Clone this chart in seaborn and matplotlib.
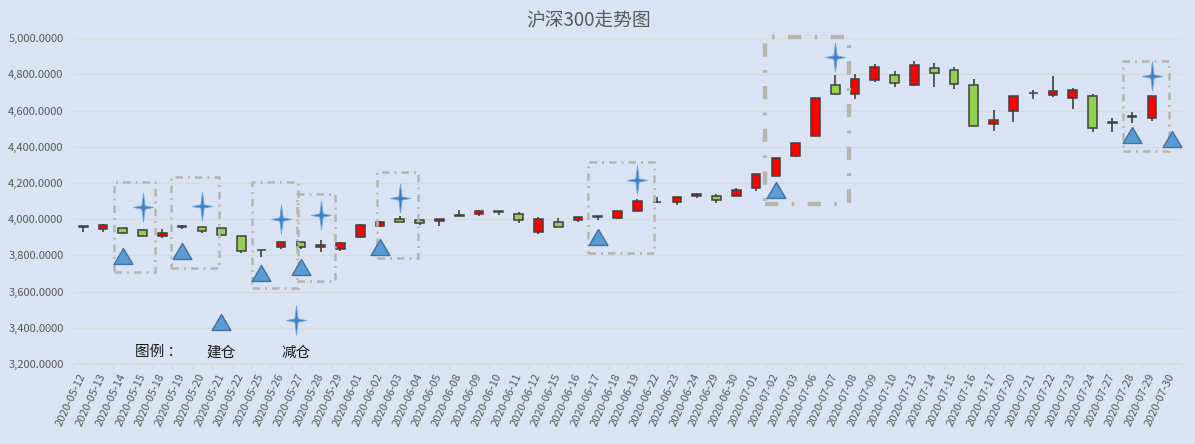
import numpy as np
import pandas as pd
import seaborn as sns
import matplotlib
matplotlib.use("Agg")
import matplotlib.pyplot as plt
from matplotlib.path import Path
from matplotlib.patches import Rectangle
from matplotlib.ticker import FuncFormatter

# ---- data ----
dates = ["2020-05-12", "2020-05-13", "2020-05-14", "2020-05-15", "2020-05-18", "2020-05-19",
         "2020-05-20", "2020-05-21", "2020-05-22", "2020-05-25", "2020-05-26", "2020-05-27",
         "2020-05-28", "2020-05-29", "2020-06-01", "2020-06-02", "2020-06-03", "2020-06-04",
         "2020-06-05", "2020-06-08", "2020-06-09", "2020-06-10", "2020-06-11", "2020-06-12",
         "2020-06-15", "2020-06-16", "2020-06-17", "2020-06-18", "2020-06-19", "2020-06-22",
         "2020-06-23", "2020-06-24", "2020-06-29", "2020-06-30", "2020-07-01", "2020-07-02",
         "2020-07-03", "2020-07-06", "2020-07-07", "2020-07-08", "2020-07-09", "2020-07-10",
         "2020-07-13", "2020-07-14", "2020-07-15", "2020-07-16", "2020-07-17", "2020-07-20",
         "2020-07-21", "2020-07-22", "2020-07-23", "2020-07-24", "2020-07-27", "2020-07-28",
         "2020-07-29", "2020-07-30"]

open_ = [3958, 3946, 3949, 3940, 3910, 3959, 3956, 3951, 3907, 3828, 3844, 3874, 3846, 3833,
         3901, 3965, 4001, 3995, 3990, 4019, 4028, 4042, 4028, 3929, 3984, 3995, 4014, 4006,
         4045, 4095, 4094, 4128, 4128, 4128, 4172, 4238, 4352, 4462, 4740, 4691, 4768, 4796,
         4740, 4834, 4823, 4740, 4525, 4597, 4695, 4685, 4669, 4680, 4533, 4566, 4558, np.nan]
high = [3965, 3975, 3951, 3945, 3945, 3969, 3957, 3952, 3908, 3838, 3875, 3876, 3886, 3875,
        3975, 3991, 4017, 3996, 4002, 4050, 4050, 4045, 4039, 4010, 4008, 4012, 4018, 4045,
        4111, 4125, 4122, 4146, 4140, 4172, 4249, 4338, 4420, 4678, 4796, 4803, 4858, 4821,
        4877, 4862, 4840, 4774, 4602, 4680, 4713, 4790, 4727, 4691, 4558, 4591, 4680, np.nan]
low = [3930, 3930, 3921, 3905, 3896, 3945, 3923, 3905, 3816, 3794, 3838, 3833, 3818, 3827,
       3899, 3956, 3983, 3967, 3965, 4018, 4017, 4023, 3980, 3921, 3955, 3986, 3993, 4001,
       4044, 4089, 4078, 4120, 4087, 4127, 4158, 4237, 4345, 4461, 4687, 4667, 4757, 4733,
       4739, 4729, 4722, 4513, 4486, 4536, 4663, 4674, 4608, 4481, 4481, 4534, 4545, np.nan]
close = [3960, 3967, 3923, 3910, 3922, 3961, 3934, 3912, 3824, 3830, 3874, 3845, 3857, 3868,
         3967, 3986, 3984, 3978, 4001, 4021, 4045, 4044, 3995, 4001, 3956, 4012, 4016, 4045,
         4100, 4097, 4122, 4139, 4109, 4161, 4249, 4337, 4420, 4669, 4694, 4774, 4840, 4752,
         4851, 4807, 4746, 4514, 4547, 4680, 4697, 4711, 4713, 4503, 4535, 4568, 4680, np.nan]

# 建仓 (open position) and 减仓 (reduce position) signals
build_dates = ["2020-05-14", "2020-05-19", "2020-05-25", "2020-05-27", "2020-06-02",
               "2020-06-17", "2020-07-02", "2020-07-28", "2020-07-30"]
build_values = [3798, 3824, 3702, 3735, 3847, 3904, 4160, 4468, 4446]
reduce_dates = ["2020-05-15", "2020-05-20", "2020-05-26", "2020-05-28", "2020-06-03",
                "2020-06-19", "2020-07-07", "2020-07-29"]
reduce_values = [4070, 4074, 4000, 4022, 4117, 4218, 4899, 4792]

df = pd.DataFrame({"date": dates, "open": open_, "high": high, "low": low, "close": close})
df["x"] = np.arange(len(df))

bg = "#dae3f3"
sns.set_theme(style="whitegrid", rc={
    "axes.facecolor": bg, "figure.facecolor": bg,
    "grid.color": "#d9d9d9", "grid.linewidth": 0.9,
})
plt.rcParams["font.family"] = ["Noto Sans CJK SC", "DejaVu Sans"]

fig = plt.figure(figsize=(11.95, 4.44), dpi=100)
ax = fig.add_axes([0.0613, 0.1802, 0.9275, 0.7336])

# candles
up = df["close"] >= df["open"]
body_colors = np.where(up, "#ff0000", "#92d050")
ax.vlines(df["x"], df["low"], df["high"], color="#404040", lw=1.2, zorder=2)
ax.bar(df["x"], df["close"] - df["open"], bottom=df["open"], width=0.44,
       color=body_colors, edgecolor="#404040", linewidth=1.1, zorder=3)

# signal markers
tri = Path([(-1, -0.85), (1, -0.85), (0, 0.85), (-1, -0.85)],
           [Path.MOVETO, Path.LINETO, Path.LINETO, Path.CLOSEPOLY])
star = Path([(0, 1.45), (0.16, 0.16), (1, 0), (0.16, -0.16), (0, -1.45),
             (-0.16, -0.16), (-1, 0), (-0.16, 0.16), (0, 1.45)],
            [Path.MOVETO] + [Path.LINETO] * 7 + [Path.CLOSEPOLY])
star_fill, star_edge = "#3f7fc6", "#6aa5dc"

build_x = [dates.index(d) for d in build_dates]
reduce_x = [dates.index(d) for d in reduce_dates]
sns.scatterplot(x=build_x, y=build_values, marker=tri, s=182, color="#5b9bd5",
                edgecolor="#41719c", linewidth=1, zorder=5, ax=ax, clip_on=False)
sns.scatterplot(x=reduce_x, y=reduce_values, marker=star, s=440, color=star_fill,
                edgecolor=star_edge, linewidth=0.6, zorder=5, ax=ax, clip_on=False)

# dash-dot boxes around trade zones
boxes = [(1.54, 3.64, 3708, 4208), (4.42, 6.86, 3732, 4232), (8.51, 10.84, 3621, 4207),
         (10.79, 12.74, 3660, 4139), (14.83, 16.93, 3785, 4260), (25.51, 28.85, 3816, 4315),
         (34.47, 38.71, 4083, 5009), (52.53, 54.86, 4379, 4876)]
for i, (x0, x1, y0, y1) in enumerate(boxes):
    thick = i == 6
    r = Rectangle((x0, y0), x1 - x0, y1 - y0, fill=False, edgecolor="#b8b4b0",
                  linewidth=3.2 if thick else 1.8,
                  linestyle=(0, (3, 3, 0.6, 3)) if thick else (0, (3, 2, 0.8, 2)),
                  zorder=4, clip_on=False)
    ax.add_patch(r)

# legend drawn inside the plot
ax.scatter([0.1333], [0.129], marker=tri, s=182, color="#5b9bd5", edgecolor="#41719c",
           linewidth=1, transform=ax.transAxes, zorder=5, clip_on=False)
ax.scatter([0.2009], [0.135], marker=star, s=440, color=star_fill, edgecolor=star_edge,
           linewidth=0.6, transform=ax.transAxes, zorder=5, clip_on=False)
ax.text(0.0773, 0.038, "图例 ：", transform=ax.transAxes, ha="center", va="center",
        fontsize=10.5, color="#1a1a1a")
ax.text(0.1336, 0.034, "建仓", transform=ax.transAxes, ha="center", va="center",
        fontsize=10.5, color="#1a1a1a")
ax.text(0.2013, 0.034, "减仓", transform=ax.transAxes, ha="center", va="center",
        fontsize=10.5, color="#1a1a1a")

# axes
ax.set_xlim(-0.5, len(dates) - 0.5)
ax.set_ylim(3200, 5000)
ax.set_yticks(np.arange(3200, 5001, 200))
ax.yaxis.set_major_formatter(FuncFormatter(lambda v, p: f"{v:,.4f}"))
ax.set_xticks(df["x"])
ax.set_xticklabels(dates, rotation=65, ha="right", va="center", rotation_mode="anchor")
ax.set_xticks(np.arange(-0.5, len(dates), 1), minor=True)
ax.grid(axis="x", visible=False)
ax.grid(axis="y", which="major", visible=True)
ax.tick_params(axis="x", which="major", length=0, pad=7, labelsize=8, labelcolor="#595959")
ax.tick_params(axis="x", which="minor", length=3.6, color="#d9d9d9", width=0.9, bottom=True)
ax.tick_params(axis="y", length=0, pad=7, labelsize=8, labelcolor="#595959")
for s in ["left", "right", "top"]:
    ax.spines[s].set_visible(False)
ax.spines["bottom"].set_color("#d9d9d9")
ax.set_xlabel("")
ax.set_ylabel("")

fig.text(0.4925, 0.9527, "沪深300走势图", ha="center", va="center", fontsize=13.5, color="#595959")

fig.savefig("out.png", dpi=100, facecolor=bg)
